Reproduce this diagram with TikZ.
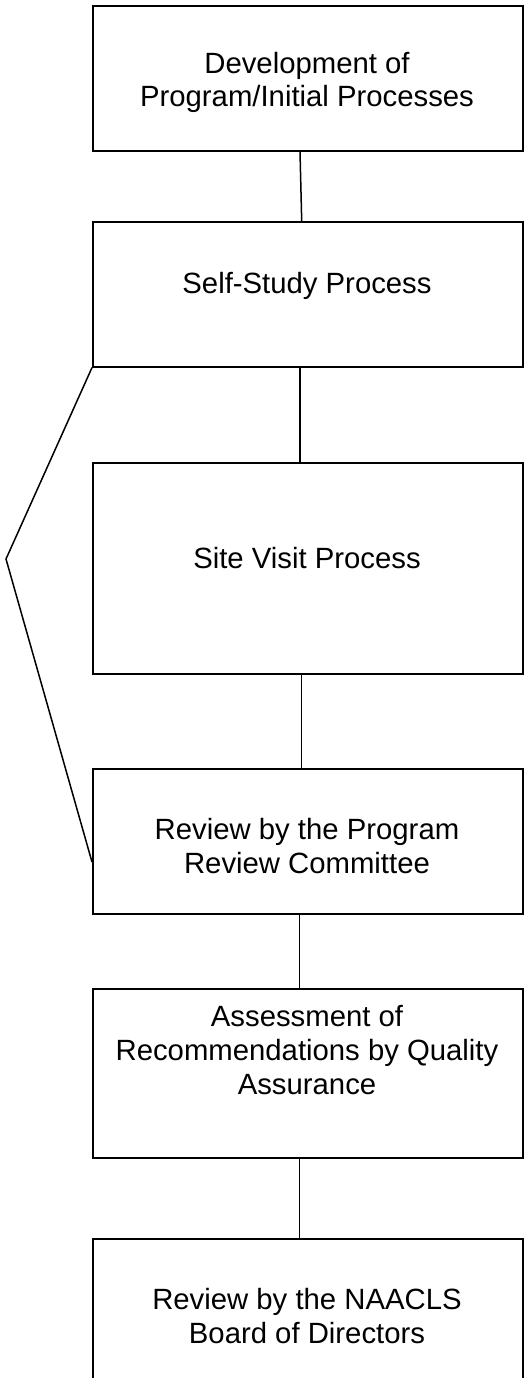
\documentclass[tikz,border=0pt]{standalone}
\usepackage{fontspec}
\setmainfont{Liberation Sans}
\begin{document}
\begin{tikzpicture}[x=1pt,y=-1pt,
  box/.style={draw, line width=1.6pt, rectangle, inner sep=0pt, anchor=north west, minimum width=430pt},
  lbl/.style={font=\fontsize{29.3}{33.7}\selectfont, align=center, anchor=base},
  conn/.style={line width=1.5pt}]
\useasboundingbox (0,0) rectangle (524,1378);
\node[box, minimum height=145pt] (b1) at (92,5) {};
\node[box, minimum height=145pt] (b2) at (92,221) {};
\node[box, minimum height=211pt] (b3) at (92,462) {};
\node[box, minimum height=145pt] (b4) at (92,768) {};
\node[box, minimum height=169pt] (b5) at (92,988) {};
\node[box, minimum height=200pt] (b6) at (92,1238) {};
\node[lbl] (t1) at (307,107) {Development of\\Program/Initial Processes};
\node[lbl] (t2) at (307,293) {Self-Study Process};
\node[lbl] (t3) at (307,568) {Site Visit Process};
\node[lbl] (t4) at (307,873) {Review by the Program\\Review Committee};
\node[lbl] (t5) at (307,1094) {Assessment of\\Recommendations by Quality\\Assurance};
\node[lbl] (t6) at (307,1343) {Review by the NAACLS\\Board of Directors};
\coordinate (x300) at (300,0);
\coordinate (x302) at (301.7,0);
\coordinate (x299) at (299.3,0);
\draw[conn] (b1.south -| x300) -- (b2.north -| x302);
\draw[conn] (b2.south -| x300) -- (b3.north -| x300);
\draw[conn] (b3.south -| x302) -- (b4.north -| x302);
\draw[conn] (b4.south -| x299) -- (b5.north -| x299);
\draw[conn] (b5.south -| x299) -- (b6.north -| x299);
\coordinate (tip) at (6,559);
\coordinate (e4) at (92,862);
\draw[conn] (b2.south west) -- (tip) -- (e4);
\end{tikzpicture}
\end{document}
